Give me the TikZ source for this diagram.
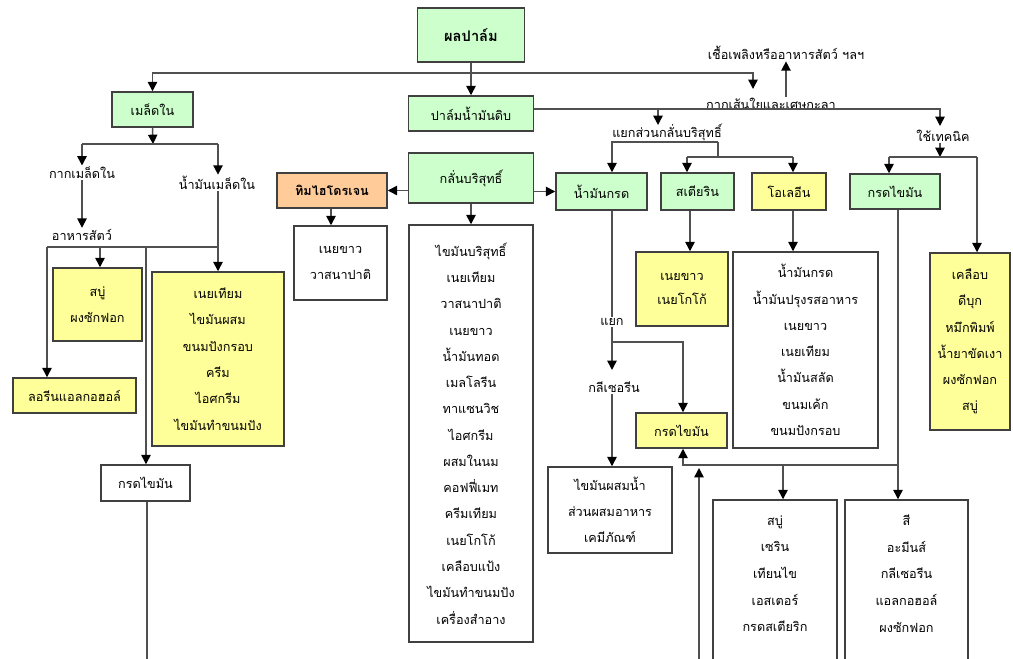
\documentclass[tikz,border=0pt]{standalone}
\usepackage{fontspec}
\setmainfont{Loma}[Script=Thai]
\usetikzlibrary{arrows.meta}
\definecolor{gfill}{HTML}{CCFFCC}
\definecolor{yfill}{HTML}{FFFF99}
\definecolor{ofill}{HTML}{FFCC99}
\definecolor{edgec}{HTML}{404040}
\definecolor{wirec}{HTML}{505050}
\tikzset{
  box/.style={draw=edgec, line width=1.1pt, inner sep=0pt, align=center,
              font=\fontsize{9.5}{19.7}\selectfont},
  bw/.style={minimum width=#1*0.75pt},
  bh/.style={minimum height=#1*0.75pt},
  gbox/.style={box, fill=gfill},
  ybox/.style={box, fill=yfill},
  obox/.style={box, fill=ofill},
  wbox/.style={box, fill=white},
  txt/.style={inner sep=1pt, align=center, font=\fontsize{9.5}{20}\selectfont},
  lbl/.style={inner sep=1pt, font=\fontsize{9.5}{12}\selectfont},
  wire/.style={draw=wirec, line width=1.1pt},
  arr/.style={wire, -{Triangle[length=7pt,width=7pt,color=black]}}
}
\begin{document}
\begin{tikzpicture}[x=0.75pt,y=-0.75pt]
\useasboundingbox (0,0) rectangle (1013,659);
\clip (0,0) rectangle (1013,659);
\fill[white] (0,0) rectangle (1013,659);

% boxes
\node[gbox,bw=107,bh=54,font=\fontsize{11}{13}\selectfont\bfseries] (palm) at (471,35) {ผลปาล์ม};
\node[gbox,bw=125,bh=35] (crude) at (471,113.5) {ปาล์มน้ำมันดิบ};
\node[gbox,bw=125,bh=50] (refine) at (471,178) {กลั่นบริสุทธิ์};
\node[gbox,bw=81,bh=35] (kernel) at (152.5,109.5) {เมล็ดใน};
\node[obox,bw=110,bh=35,font=\fontsize{9.5}{12}\selectfont\bfseries] (hyd) at (332,190.5) {ทิมไฮโดรเจน};
\node[wbox,bw=93,bh=74] (wb1) at (340.5,263) {เนยขาว\\วาสนาปาติ};
\node[wbox,bw=124,bh=417] (list) at (471,433.5) {ไขมันบริสุทธิ์\\เนยเทียม\\วาสนาปาติ\\เนยขาว\\น้ำมันทอด\\เมลโลรีน\\ทาแซนวิช\\ไอศกรีม\\ผสมในนม\\คอฟฟี่เมท\\ครีมเทียม\\เนยโกโก้\\เคลือบแป้ง\\ไขมันทำขนมปัง\\เครื่องสำอาง};
\node[gbox,bw=91,bh=37] (oil) at (601.5,191.5) {น้ำมันกรด};
\node[gbox,bw=73,bh=37] (stea) at (697.5,191.5) {สเตียริน};
\node[ybox,bw=74,bh=37] (olein) at (789,191.5) {โอเลอีน};
\node[gbox,bw=90,bh=35] (fag) at (895,191.5) {กรดไขมัน};
\node[ybox,bw=92,bh=74,font=\fontsize{9.5}{17.3}\selectfont] (ycoc) at (682,289) {เนยขาว\\เนยโกโก้};
\node[wbox,bw=145,bh=196] (olist) at (805.5,350) {น้ำมันกรด\\น้ำมันปรุงรสอาหาร\\เนยขาว\\เนยเทียม\\น้ำมันสลัด\\ขนมเค้ก\\ขนมปังกรอบ};
\node[ybox,bw=80,bh=177] (ry) at (970,341.5) {เคลือบ\\ดีบุก\\หมึกพิมพ์\\น้ำยาขัดเงา\\ผงซักฟอก\\สบู่};
\node[ybox,bw=91,bh=35] (yfa) at (681.5,430.5) {กรดไขมัน};
\node[wbox,bw=124,bh=86] (mix) at (610,510) {ไขมันผสมน้ำ\\ส่วนผสมอาหาร\\เคมีภัณฑ์};
\node[wbox,bw=124,bh=170] (soapb) at (775,585) {};
\node[txt] (soapt) at (775,573.5) {สบู่\\เซริน\\เทียนไข\\เอสเตอร์\\กรดสเตียริก};
\node[wbox,bw=123,bh=170] (paint) at (906.5,585) {};
\node[txt] (paintt) at (906.5,573.5) {สี\\อะมีนส์\\กลีเซอรีน\\แอลกอฮอล์\\ผงซักฟอก};
\node[ybox,bw=89,bh=73] (ks) at (97.5,304.5) {สบู่\\ผงซักฟอก};
\node[ybox,bw=132,bh=174] (kb) at (218,359) {เนยเทียม\\ไขมันผสม\\ขนมปังกรอบ\\ครีม\\ไอศกรีม\\ไขมันทำขนมปัง};
\node[ybox,bw=123,bh=35] (lauryl) at (74.5,395.5) {ลอรีนแอลกอฮอล์};
\node[wbox,bw=89,bh=36] (faw) at (145.5,483) {กรดไขมัน};

% free labels
\node[lbl] (fuel) at (786,53) {เชื้อเพลิงหรืออาหารสัตว์ ฯลฯ};
\node[lbl] (fib) at (771,104) {กากเส้นใยและเศษกะลา};
\node[lbl] (sep) at (667,132) {แยกส่วนกลั่นบริสุทธิ์};
\node[lbl] (tech) at (943,136) {ใช้เทคนิค};
\node[lbl] (kcake) at (82,173) {กากเมล็ดใน};
\node[lbl] (koil) at (217,183) {น้ำมันเมล็ดใน};
\node[lbl] (feed) at (82,235) {อาหารสัตว์};
\node[lbl] (split) at (612,322) {แยก};
\node[lbl] (glyc) at (614,387) {กลีเซอรีน};

% junction coordinates
\coordinate (jT) at (471,73);
\coordinate (fibin) at (753,89);
\coordinate (cy) at (0,109);
\coordinate (techin) at (940,126);
\coordinate (sepin) at (658,125);
\coordinate (s0) at (612,142);
\coordinate (s1) at (718,142);
\coordinate (s2) at (718,157);
\coordinate (s3) at (687,157);
\coordinate (s4) at (793,157);
\coordinate (t0) at (940,157);
\coordinate (t1) at (889,157);
\coordinate (t2) at (977,157);
\coordinate (k0) at (153,144);
\coordinate (k1) at (82,144);
\coordinate (k2) at (218,144);
\coordinate (k3) at (218,247);
\coordinate (k4) at (47,247);
\coordinate (k5) at (100,247);
\coordinate (k6) at (146,247);
\coordinate (fwb) at (147,680);
\coordinate (xh) at (331,0);
\coordinate (xs) at (690,0);
\coordinate (p0) at (612,342);
\coordinate (p1) at (683,342);
\coordinate (p2) at (612,370);
\coordinate (q0) at (898,465);
\coordinate (q1) at (683,465);
\coordinate (q2) at (783,465);
\coordinate (q3) at (699,680);
\coordinate (q4) at (699,468);

% connectors
\draw[arr] (palm.south) -- (crude.north);
\draw[arr] (jT) -| (kernel.north);
\draw[arr] (jT) -| (fibin);
\draw[arr] (fib.north -| fuel.south) -- (fuel.south);
\draw[arr] (crude.east |- cy) -| (techin);
\draw[arr] (sepin |- cy) -- (sepin);
\draw[wire] (s1) -- (s2);
\draw[wire] (s3) -- (s4);
\draw[arr] (s1) -- (s0) -- (oil.north -| s0);
\draw[arr] (s3) -- (stea.north -| s3);
\draw[arr] (s4) -- (olein.north -| s4);
\draw[arr] (tech.south -| t0) -- (t0);
\draw[wire] (t1) -- (t2);
\draw[arr] (t1) -- (fag.north -| t1);
\draw[arr] (t2) -- (ry.north -| t2);
\draw[arr] (kernel.south) -- (k0);
\draw[wire] (k1) -- (k2);
\draw[arr] (k1) -- (kcake.north -| k1);
\draw[arr] (k2) -- (koil.north -| k2);
\draw[arr] (kcake.south -| k1) -- (feed.north -| k1);
\draw[arr] (koil.south -| k3) -- (kb.north -| k3);
\draw[wire] (k4) -- (k3);
\draw[arr] (k4) -- (lauryl.north -| k4);
\draw[arr] (k5) -- (ks.north -| k5);
\draw[arr] (k6) -- (faw.north -| k6);
\draw[wire] (faw.south -| fwb) -- (fwb);
\draw[arr] (refine.west |- hyd) -- (hyd.east);
\draw[arr] (hyd.south -| xh) -- (wb1.north -| xh);
\draw[arr] (refine.south) -- (list.north);
\draw[arr] (refine.east |- oil) -- (oil.west);
\draw[arr] (stea.south -| xs) -- (ycoc.north -| xs);
\draw[arr] (olein.south -| s4) -- (olist.north -| s4);
\draw[wire] (oil.south -| s0) -- (split.north);
\draw[wire] (split.south) -- (p0);
\draw[arr] (p0) -- (p2);
\draw[arr] (p0) -- (p1) -- (yfa.north -| p1);
\draw[arr] (glyc.south -| p0) -- (mix.north -| p0);
\draw[arr] (fag.south -| q0) -- (paint.north -| q0);
\draw[arr] (q0) -- (q1) -- (yfa.south -| q1);
\draw[arr] (q2) -- (soapb.north -| q2);
\draw[arr] (q3) -- (q4);
\end{tikzpicture}
\end{document}
